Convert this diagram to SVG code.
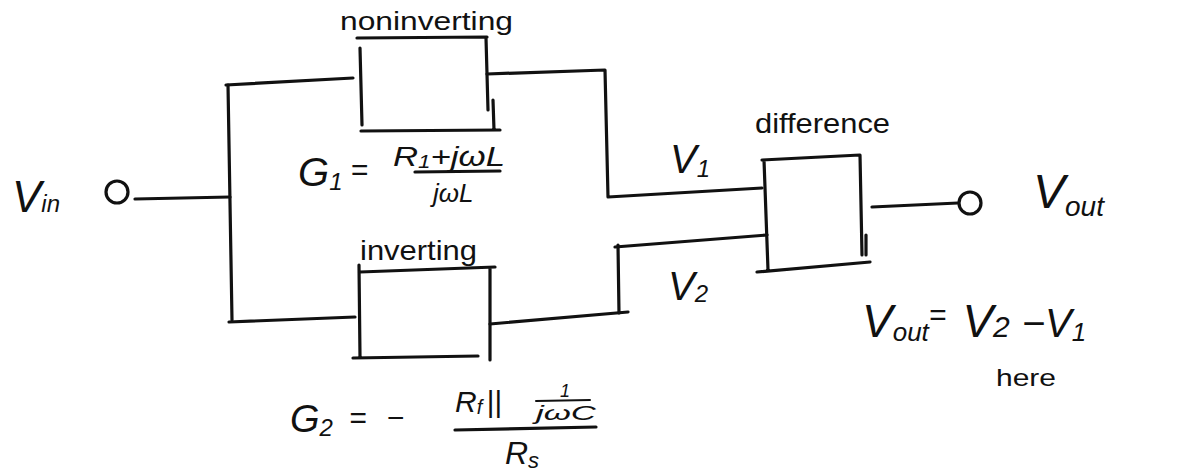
<svg xmlns="http://www.w3.org/2000/svg" width="1191" height="475" viewBox="0 0 1191 475">
<style>
.w{fill:none;stroke:#111;stroke-width:3.2;stroke-linecap:round;stroke-linejoin:round}
.t{font-family:"Liberation Sans",Arial,sans-serif;fill:#111}
.v{font-family:"Liberation Sans",Arial,sans-serif;font-style:italic;fill:#111}
</style>
<rect width="1191" height="475" fill="#fff"/>
<g id="connectors">
<path class="w" d="M135,199 L230,197"/>
<path class="w" d="M228,85 L232,320"/>
<path class="w" d="M226,85 L353,78"/>
<path class="w" d="M229,322 L355,317"/>
<path class="w" d="M487,74 L605,70 L608,197 L762,188"/>
<path class="w" d="M490,324 L628,312"/>
<path class="w" d="M618,245 L619,313"/>
<path class="w" d="M615,247 L767,235"/>
<path class="w" d="M872,207 L958,203"/>
</g>
<g id="vin">
<circle class="w" cx="117" cy="192" r="11"/>
<text class="v" x="12" y="212" font-size="44">V<tspan font-size="24">in</tspan></text>
</g>
<g id="noninverting">
<path class="w" d="M357,38 L487,37 M360,48 L362,125 M486,38 L488,110 M493,100 L494,130 M361,131 L500,130"/>
<text class="t" x="340" y="30" font-size="26" textLength="173" lengthAdjust="spacingAndGlyphs">noninverting</text>
<text class="v" x="298" y="186" font-size="40">G<tspan font-size="24" dy="4">1</tspan><tspan font-size="30" dx="8" dy="-10">=</tspan></text>
<text class="v" x="393" y="166" font-size="28" textLength="112" lengthAdjust="spacingAndGlyphs">R<tspan font-size="18" dy="2">1</tspan><tspan dy="-2">+jωL</tspan></text>
<path class="w" d="M415,172 L500,171"/>
<text class="v" x="433" y="202" font-size="26">jωL</text>
</g>
<g id="inverting">
<path class="w" d="M360,272 L495,267 M359,265 L360,357 M490,268 L490,360 M353,358 L478,356"/>
<text class="t" x="360" y="260" font-size="28" textLength="117" lengthAdjust="spacingAndGlyphs">inverting</text>
<text class="v" x="290" y="432" font-size="38">G<tspan font-size="24" dy="4">2</tspan><tspan font-size="30" dx="16" dy="-8">=</tspan><tspan font-size="30" dx="20">−</tspan></text>
<text class="v" x="455" y="412" font-size="30">R<tspan font-size="20" dy="2">f</tspan><tspan dx="4" dy="-2">||</tspan></text>
<text class="v" x="560" y="397" font-size="18">1</text>
<path class="w" d="M536,401 L590,400" style="stroke-width:2"/>
<text class="v" x="536" y="420" font-size="20" textLength="60" lengthAdjust="spacingAndGlyphs">jωC</text>
<path class="w" d="M455,430 L596,427"/>
<text class="v" x="505" y="464" font-size="32">R<tspan font-size="22" dy="4">s</tspan></text>
</g>
<g id="difference">
<path class="w" d="M762,160 L860,155 M764,160 L768,270 M860,155 L862,255 M866,235 L866,255 M757,272 L870,262"/>
<text class="t" x="755" y="133" font-size="28" textLength="135" lengthAdjust="spacingAndGlyphs">difference</text>
</g>
<g id="vout">
<circle class="w" cx="970" cy="203" r="11"/>
<text class="v" x="1033" y="208" font-size="48">V<tspan font-size="28" dy="8">out</tspan></text>
</g>
<g id="labels">
<text class="v" x="670" y="173" font-size="40">V<tspan font-size="24" dy="4">1</tspan></text>
<text class="v" x="668" y="300" font-size="40">V<tspan font-size="24" dy="2">2</tspan></text>
<text class="v" x="862" y="337" font-size="46">V<tspan font-size="26" dy="4">out</tspan><tspan font-size="30" dy="-16">=</tspan><tspan font-size="46" dx="16" dy="12">V</tspan><tspan font-size="30">2</tspan><tspan font-size="40" dx="12">−V</tspan><tspan font-size="26" dy="4">1</tspan></text>
<text class="t" x="996" y="386" font-size="24" textLength="60" lengthAdjust="spacingAndGlyphs">here</text>
</g>
</svg>
